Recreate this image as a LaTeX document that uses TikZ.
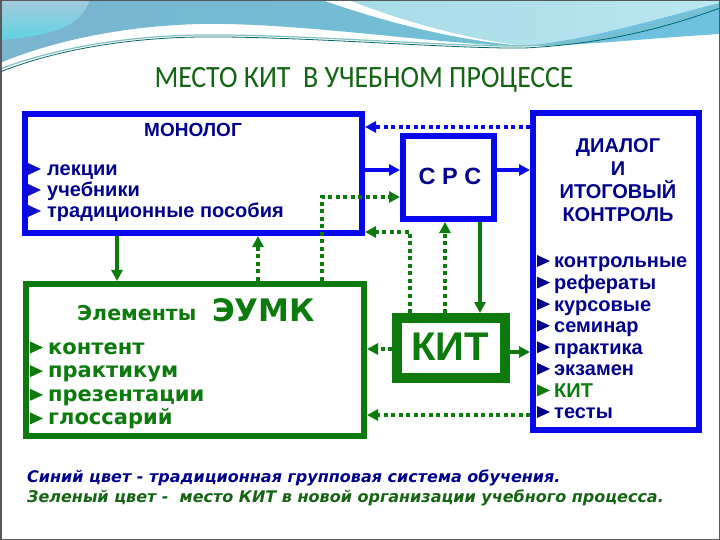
\documentclass[tikz,border=0pt]{standalone}
\usepackage{fontspec}
\setmainfont{Liberation Sans}
\newfontfamily\dejavu{DejaVu Sans}
\newfontfamily\carlito{Carlito}[FakeStretch=0.9]
\usetikzlibrary{arrows.meta,calc}
\definecolor{bblue}{RGB}{8,8,236}
\definecolor{navy}{RGB}{0,0,140}
\definecolor{tblue}{RGB}{16,16,200}
\definecolor{ggreen}{RGB}{12,122,12}
\definecolor{tgreen}{RGB}{20,100,20}
\definecolor{tealA}{RGB}{122,180,206}
\definecolor{tealB}{RGB}{96,210,226}
\definecolor{cyanA}{RGB}{166,218,232}
\definecolor{cyanB}{RGB}{186,230,240}
\definecolor{swoosh}{RGB}{112,192,224}
\begin{document}
\begin{tikzpicture}[x=1bp,y=-1bp,
  box/.style={draw, line width=6bp, inner sep=0pt},
  lab/.style={inner sep=0pt},
  tip/.style={-{Triangle[length=11bp,width=11bp]}},
  bsolid/.style={tip, draw=bblue, line width=4bp},
  bdot/.style={bsolid, dash pattern=on 4bp off 3.5bp},
  gsolid/.style={tip, draw=ggreen, line width=4bp},
  gdot/.style={gsolid, dash pattern=on 4bp off 3.5bp},
  mitem/.style={lab, anchor=base west, text=navy, font=\bfseries\fontsize{20bp}{20bp}\selectfont},
  eitem/.style={lab, anchor=base west, text=ggreen, font=\dejavu\bfseries\fontsize{21bp}{21bp}\selectfont},
  tri/.pic={\fill (0,-6) -- (13,0) -- (0,6) -- cycle;}
]
\useasboundingbox (0,0) rectangle (720,540);
% ---------- background decoration ----------
\fill[white] (0,0) rectangle (720,540);
\shade[left color=tealA, right color=tealB!60!tealA]
  (0,0) -- (720,0) -- (720,32) .. controls (650,36) and (580,46) .. (525,46)
  .. controls (450,46) and (300,22) .. (200,24) .. controls (120,26) and (50,42) .. (0,63) -- cycle;
\shade[top color=tealA!70!white, bottom color=tealB] (0,40) .. controls (60,35) and (80,25) .. (90,0) -- (0,0) -- cycle;
\shade[left color=cyanA, right color=cyanB]
  (330,0) -- (720,0) -- (720,3) .. controls (660,18) and (590,40) .. (525,46)
  .. controls (460,38) and (400,20) .. (345,0) -- cycle;
\fill[swoosh] (525,46) .. controls (590,40) and (660,18) .. (720,3) -- (720,34)
  .. controls (650,38) and (580,46) .. (525,46) -- cycle;
\fill[white] (322,0) -- (348,0) .. controls (400,20) and (460,38) .. (525,46)
  .. controls (450,40) and (380,20) .. (322,0) -- cycle;
\draw[teal!80!black, line width=0.8bp] (0,72) .. controls (50,52) and (120,38) .. (200,37)
  .. controls (300,36) and (450,49) .. (525,48) .. controls (600,44) and (660,30) .. (720,8);
\draw[teal!50!white, line width=1.2bp] (0,69) .. controls (50,50) and (120,36) .. (200,35)
  .. controls (300,34) and (450,47) .. (525,46) .. controls (600,42) and (660,26) .. (720,4);
\draw[black!65, line width=1.5bp] (0.75,0.75) rectangle (719.25,539.25);
% ---------- title ----------
\node[lab, anchor=base, text=tgreen, font=\carlito\fontsize{31bp}{31bp}\selectfont] (title) at (364,88) {МЕСТО КИТ\ \ В УЧЕБНОМ ПРОЦЕССЕ};
% ---------- boxes ----------
\node[box, draw=bblue, minimum width=337bp, minimum height=119bp] (monolog) at (193.5,173.5) {};
\node[box, draw=bblue, minimum width=91bp, minimum height=83bp] (srs) at (448.5,177.5) {};
\node[box, draw=bblue, minimum width=166bp, minimum height=317bp] (dialog) at (616,271.5) {};
\node[box, draw=ggreen, minimum width=338bp, minimum height=152bp] (eumk) at (195,360) {};
\node[box, draw=ggreen, line width=10bp, minimum width=108bp, minimum height=60bp] (kit) at (451,348) {};
% ---------- box texts ----------
\node[lab, anchor=base, text=navy, font=\bfseries\fontsize{19bp}{19bp}\selectfont] (monologT) at (193,137) {МОНОЛОГ};
\foreach \t [count=\i] in {лекции,учебники,традиционные пособия} {
  \pic[color=tblue] at (28,{169+21*(\i-1)}) {tri};
  \node[mitem] (mi\i) at (47,{176+21*(\i-1)}) {\t};
}
\node[lab, anchor=base, text=navy, font=\bfseries\fontsize{23.5bp}{23.5bp}\selectfont] (srsT) at (450,185) {С Р С};
\node[lab, anchor=base, text=navy, font=\bfseries\fontsize{20bp}{20bp}\selectfont] (dl1) at (618,153) {ДИАЛОГ};
\node[lab, anchor=base, text=navy, font=\bfseries\fontsize{20bp}{20bp}\selectfont] (dl2) at (618,176) {И};
\node[lab, anchor=base, text=navy, font=\bfseries\fontsize{20bp}{20bp}\selectfont] (dl3) at (618,199) {ИТОГОВЫЙ};
\node[lab, anchor=base, text=navy, font=\bfseries\fontsize{20bp}{20bp}\selectfont] (dl4) at (618,222) {КОНТРОЛЬ};
\foreach \t/\c [count=\i] in {контрольные/navy,рефераты/navy,курсовые/navy,семинар/navy,практика/navy,экзамен/navy,КИТ/ggreen,тесты/navy} {
  \pic[color=\c] at (537,{261+21.57*(\i-1)}) {tri};
  \node[mitem, text=\c] (di\i) at (554,{268+21.57*(\i-1)}) {\t};
}
\node[lab, anchor=base west, text=ggreen, font=\dejavu\bfseries\fontsize{20.5bp}{20.5bp}\selectfont] (elT) at (77,320) {Элементы};
\node[lab, anchor=base west, text=ggreen, font=\dejavu\bfseries\fontsize{31bp}{31bp}\selectfont] (eumkT) at (212,321) {ЭУМК};
\foreach \t [count=\i] in {контент,практикум,презентации,глоссарий} {
  \pic[color=ggreen] at (30,{347.5+23.65*(\i-1)}) {tri};
  \node[eitem] (ei\i) at (48,{354+23.65*(\i-1)}) {\t};
}
\node[lab, anchor=base, text=ggreen, font=\bfseries\fontsize{40bp}{40bp}\selectfont] (kitT) at (450,360) {КИТ};
% ---------- helper coordinates ----------
\coordinate (x117) at (117,0);
\coordinate (x258) at (258,0);
\coordinate (x322) at (322,0);
\coordinate (x410) at (410,0);
\coordinate (x445) at (445,0);
\coordinate (x480) at (480,0);
\coordinate (y127) at (0,127);
\coordinate (y170) at (0,170);
\coordinate (y197) at (0,197);
\coordinate (y232) at (0,232);
\coordinate (y352) at (0,352);
\coordinate (y349) at (0,349);
\coordinate (y415) at (0,415);
% ---------- connectors ----------
\draw[bdot] (dialog.west |- y127) -- (monolog.east |- y127);
\draw[bsolid] (monolog.east |- y170) -- (srs.west |- y170);
\draw[bsolid] (srs.east |- y170) -- (dialog.west |- y170);
\draw[gdot] (eumk.north -| x322) |- (srs.west |- y197);
\draw[gdot] (eumk.north -| x258) -- (monolog.south -| x258);
\draw[gsolid] (monolog.south -| x117) -- (eumk.north -| x117);
\draw[gdot] (kit.north -| x410) |- (monolog.east |- y232);
\draw[gdot] (kit.north -| x445) -- (srs.south -| x445);
\draw[gsolid] (srs.south -| x480) -- (kit.north -| x480);
\draw[gsolid] (kit.east |- y352) -- (dialog.west |- y352);
\draw[gdot] (kit.west |- y349) -- (eumk.east |- y349);
\draw[gdot] (dialog.west |- y415) -- (eumk.east |- y415);
% ---------- legend ----------
\node[lab, anchor=base west, text=navy, font=\dejavu\bfseries\itshape\fontsize{16bp}{16bp}\selectfont] (leg1) at (27,482.5) {Синий цвет - традиционная групповая система обучения.};
\node[lab, anchor=base west, text=tgreen, font=\dejavu\bfseries\itshape\fontsize{16bp}{16bp}\selectfont] (leg2) at (27,502.5) {Зеленый цвет -\ \ место КИТ в новой организации учебного процесса.};
\end{tikzpicture}
\end{document}
